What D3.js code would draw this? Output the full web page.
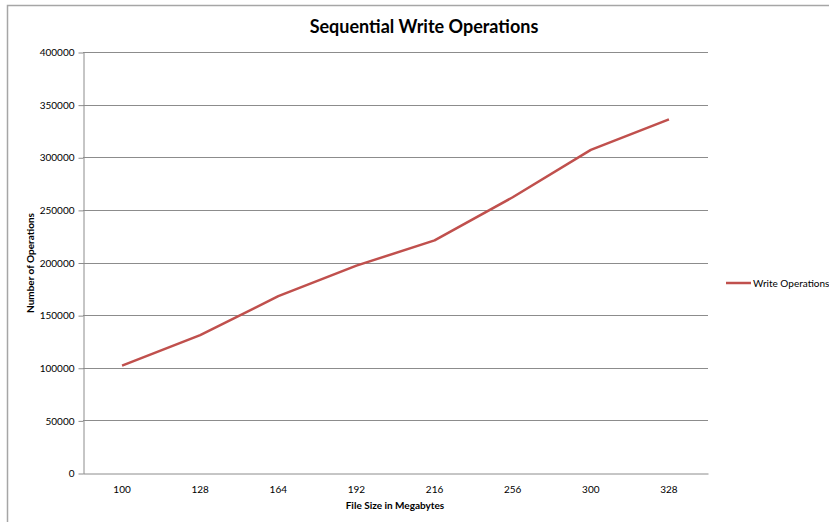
<!DOCTYPE html>
<html>
<head>
<meta charset="utf-8">
<script src="https://cdn.jsdelivr.net/npm/d3@7"></script>
<style>
  html, body { margin: 0; padding: 0; background: #fff; }
  svg { display: block; font-family: Lato, "Open Sans", "Liberation Sans", sans-serif; }
</style>
</head>
<body>
<svg id="chart" width="829" height="522"></svg>
<script>
// File sizes (MB) and the number of sequential write operations for each
const fileSizes = ["100", "128", "164", "192", "216", "256", "300", "328"];
const writeOps = [102000, 131000, 168000, 197000, 221000, 262000, 307000, 336000];
const yTicks = [0, 50000, 100000, 150000, 200000, 250000, 300000, 350000, 400000];
const seriesName = "Write Operations";

const svg = d3.select("#chart");
const W = 829, H = 522;
const plot = { left: 83, right: 708, top: 52, bottom: 473 };

// Outer chart frame
svg.append("rect")
  .attr("x", 7.5).attr("y", 5.5)
  .attr("width", W).attr("height", H)
  .attr("fill", "#fff").attr("stroke", "#a6a6a6").attr("stroke-width", 1.5);

const x = d3.scaleBand().domain(fileSizes).range([plot.left, plot.right]);
const y = d3.scaleLinear().domain([0, 400000]).range([plot.bottom, plot.top]);

// Horizontal gridlines
svg.append("g")
  .selectAll("line")
  .data(yTicks.filter(d => d > 0))
  .join("line")
  .attr("x1", plot.left).attr("x2", plot.right)
  .attr("y1", d => Math.round(y(d)) + 0.5).attr("y2", d => Math.round(y(d)) + 0.5)
  .attr("stroke", "#8c8c8c").attr("stroke-width", 1);

// Y axis
const yAxis = svg.append("g")
  .attr("transform", `translate(${plot.left + 0.5},0.5)`)
  .call(d3.axisLeft(y).tickValues(yTicks).tickFormat(d3.format("d")).tickSize(5).tickSizeOuter(0));
yAxis.select(".domain").attr("stroke", "#8c8c8c");
yAxis.selectAll(".tick line").attr("stroke", "#8c8c8c");
yAxis.selectAll(".tick text").attr("x", -9).attr("font-size", 10).attr("fill", "#000")
  .style("font-family", "Lato, 'Open Sans', sans-serif");

// X axis
const xAxis = svg.append("g")
  .attr("transform", `translate(0,${plot.bottom + 0.5})`)
  .call(d3.axisBottom(x).tickSize(0).tickSizeOuter(0));
xAxis.select(".domain").attr("stroke", "#8c8c8c");
xAxis.selectAll(".tick text").attr("dy", "0.71em").attr("y", 12).attr("font-size", 10).attr("fill", "#000")
  .style("font-family", "Lato, 'Open Sans', sans-serif");

// Data line
const line = d3.line()
  .x((d, i) => x(fileSizes[i]) + x.bandwidth() / 2)
  .y(d => y(d));
svg.append("path")
  .datum(writeOps)
  .attr("d", line)
  .attr("fill", "none")
  .attr("stroke", "#c0504d")
  .attr("stroke-width", 2.5)
  .attr("stroke-linejoin", "round");

// Title
svg.append("text")
  .attr("x", 424).attr("y", 33)
  .attr("text-anchor", "middle")
  .attr("font-size", 18).attr("font-weight", "bold")
  .text("Sequential Write Operations");

// Axis titles
svg.append("text")
  .attr("x", 395).attr("y", 509)
  .attr("text-anchor", "middle")
  .attr("font-size", 10).attr("font-weight", "bold")
  .text("File Size in Megabytes");

svg.append("text")
  .attr("transform", "translate(34,263) rotate(-90)")
  .attr("text-anchor", "middle")
  .attr("font-size", 10).attr("font-weight", "bold")
  .text("Number of Operations");

// Legend
const legend = svg.append("g").attr("transform", "translate(726,283)");
legend.append("line")
  .attr("x1", 0).attr("x2", 25).attr("y1", 0).attr("y2", 0)
  .attr("stroke", "#c0504d").attr("stroke-width", 2.5);
legend.append("text")
  .attr("x", 27).attr("y", 0).attr("dy", "0.35em")
  .attr("font-size", 10)
  .text(seriesName);
</script>
</body>
</html>
